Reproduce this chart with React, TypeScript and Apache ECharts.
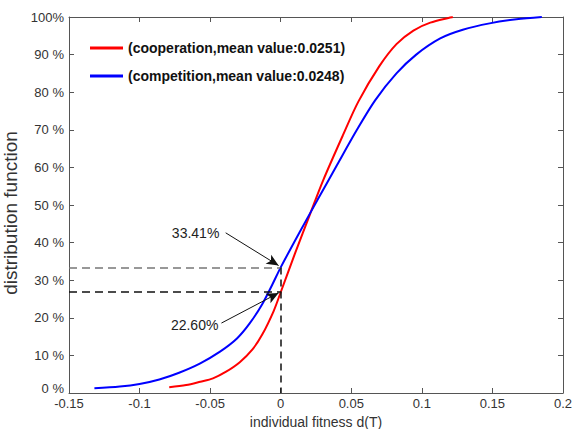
import React, { useEffect, useRef } from "react";
import * as echarts from "echarts";

const coopX = [-0.079, -0.067, -0.057, -0.048, -0.039, -0.029, -0.02, -0.013, -0.005, 0, 0.01, 0.021, 0.03, 0.044, 0.055, 0.07, 0.082, 0.094, 0.106, 0.122];
const coopY = [1.5, 2.1, 3.0, 3.9, 5.6, 8.2, 11.6, 15.6, 21.8, 26.8, 37.0, 47.8, 56.5, 68.5, 77.5, 87.0, 92.8, 96.4, 98.5, 100];
const compX = [-0.132, -0.114, -0.1, -0.086, -0.072, -0.057, -0.043, -0.031, -0.022, -0.013, -0.006, 0, 0.013, 0.026, 0.04, 0.054, 0.067, 0.082, 0.096, 0.113, 0.129, 0.148, 0.167, 0.185];
const compY = [1.25, 1.7, 2.4, 3.6, 5.4, 7.9, 11.0, 14.5, 18.5, 23.7, 28.8, 33.41, 42.5, 51.3, 60.7, 70, 77.9, 85.0, 90.0, 94.3, 96.6, 98.3, 99.4, 100];

const seriesNames = ["(cooperation,mean value:0.0251)", "(competition,mean value:0.0248)"];
const annotationTexts = ["33.41%", "22.60%"];
const compAtZero = 33.41;
const coopAtZero = 26.8;
// arrow start / tip (data coords) and label positions
const arrowUpper = [[-0.039, 42.6], [-0.0015, 33.9]];
const arrowLower = [[-0.042, 18.6], [-0.0015, 26.6]];
const labelUpper = [-0.0603, 42.6];
const labelLower = [-0.061, 18.1];

const FONT = "'Liberation Sans', Arial, sans-serif";

export default function App() {
  const ref = useRef<HTMLDivElement>(null);
  useEffect(() => {
    if (!ref.current) return;
    const chart = echarts.init(ref.current, null, { renderer: "svg" });
    const zip = (xs: number[], ys: number[]) => xs.map((x, i) => [x, ys[i]]);
    const axisLine = { show: true, onZero: false, lineStyle: { color: "#555", width: 1 } };
    const axisTick = { show: true, inside: true, length: 5, lineStyle: { color: "#555" } };
    const fmtX = (v: number) => String(+v.toFixed(2));
    chart.setOption({
      animation: false,
      backgroundColor: "#fff",
      textStyle: { fontFamily: FONT },
      grid: {
        left: 69,
        right: 12,
        top: 17,
        bottom: 36,
        containLabel: false,
        outerBoundsMode: "none",
      },
      legend: {
        show: true,
        orient: "vertical",
        left: 85,
        top: 36,
        itemGap: 14,
        itemWidth: 33,
        itemHeight: 3,
        icon: "rect",
        textStyle: { fontFamily: FONT, fontSize: 14, fontWeight: "bold", color: "#111" },
        data: seriesNames,
      },
      xAxis: [
        {
          type: "value",
          min: -0.15,
          max: 0.2,
          interval: 0.05,
          name: "individual fitness d(T)",
          nameLocation: "middle",
          nameGap: 18,
          nameTextStyle: { fontFamily: FONT, fontSize: 14, color: "#333" },
          axisLine,
          axisTick,
          axisLabel: { formatter: fmtX, fontFamily: FONT, fontSize: 13, color: "#333", margin: 4 },
          splitLine: { show: false },
        },
        {
          type: "value",
          position: "top",
          min: -0.15,
          max: 0.2,
          interval: 0.05,
          axisLine,
          axisTick,
          axisLabel: { show: false },
          splitLine: { show: false },
        },
      ],
      yAxis: [
        {
          type: "value",
          min: 0,
          max: 100,
          interval: 10,
          name: "distribution function",
          nameLocation: "middle",
          nameGap: 31,
          nameTextStyle: { fontFamily: FONT, fontSize: 19, color: "#333", padding: [0, 16, 0, 0] },
          axisLine,
          axisTick,
          axisLabel: {
            formatter: (v: number) => (v === 100 ? "100%" : v === 0 ? "{z|0 %}" : v + " %"),
            fontFamily: FONT,
            fontSize: 13,
            color: "#333",
            margin: 5,
            rich: { z: { fontFamily: FONT, fontSize: 13, color: "#333", padding: [0, 0, 9, 0] } },
          },
          splitLine: { show: false },
        },
        {
          type: "value",
          position: "right",
          min: 0,
          max: 100,
          interval: 10,
          axisLine,
          axisTick,
          axisLabel: { show: false },
          splitLine: { show: false },
        },
      ],
      series: [
        {
          name: seriesNames[0],
          type: "line",
          data: zip(coopX, coopY),
          showSymbol: false,
          smooth: 0.3,
          lineStyle: { color: "#ff0000", width: 2 },
          itemStyle: { color: "#ff0000" },
          z: 3,
        },
        {
          name: seriesNames[1],
          type: "line",
          data: zip(compX, compY),
          showSymbol: false,
          smooth: 0.3,
          lineStyle: { color: "#0000ff", width: 2 },
          itemStyle: { color: "#0000ff" },
          z: 4,
          markLine: {
            silent: true,
            symbol: ["none", "none"],
            label: { show: false },
            data: [
              [
                { coord: [-0.15, compAtZero], lineStyle: { color: "#777", type: [8, 5], width: 1.5 } },
                { coord: [0, compAtZero] },
              ],
              [
                { coord: [-0.15, coopAtZero], lineStyle: { color: "#111", type: [8, 5], width: 1.5 } },
                { coord: [0, coopAtZero] },
              ],
              [
                { coord: [0, compAtZero], lineStyle: { color: "#111", type: [7, 5], width: 1.5 } },
                { coord: [0, 0] },
              ],
            ],
          },
        },
        {
          type: "line",
          data: [],
          markLine: {
            silent: true,
            symbol: ["none", "arrow"],
            symbolSize: [8, 12],
            label: { show: false },
            lineStyle: { color: "#111", type: "solid", width: 1 },
            data: [
              [{ coord: arrowUpper[0] }, { coord: arrowUpper[1] }],
              [{ coord: arrowLower[0] }, { coord: arrowLower[1] }],
            ],
          },
          markPoint: {
            silent: true,
            symbol: "circle",
            symbolSize: 1,
            itemStyle: { color: "rgba(0,0,0,0)" },
            label: {
              show: true,
              position: "inside",
              fontFamily: FONT,
              fontSize: 14,
              color: "#222",
            },
            data: [
              { coord: labelUpper, label: { formatter: annotationTexts[0] } },
              { coord: labelLower, label: { formatter: annotationTexts[1] } },
            ],
          },
          z: 5,
        },
      ],
    });
    return () => chart.dispose();
  }, []);
  return (
    <div
      ref={ref}
      style={{ position: "absolute", left: 0, top: 0, width: 575, height: 429 }}
    />
  );
}
